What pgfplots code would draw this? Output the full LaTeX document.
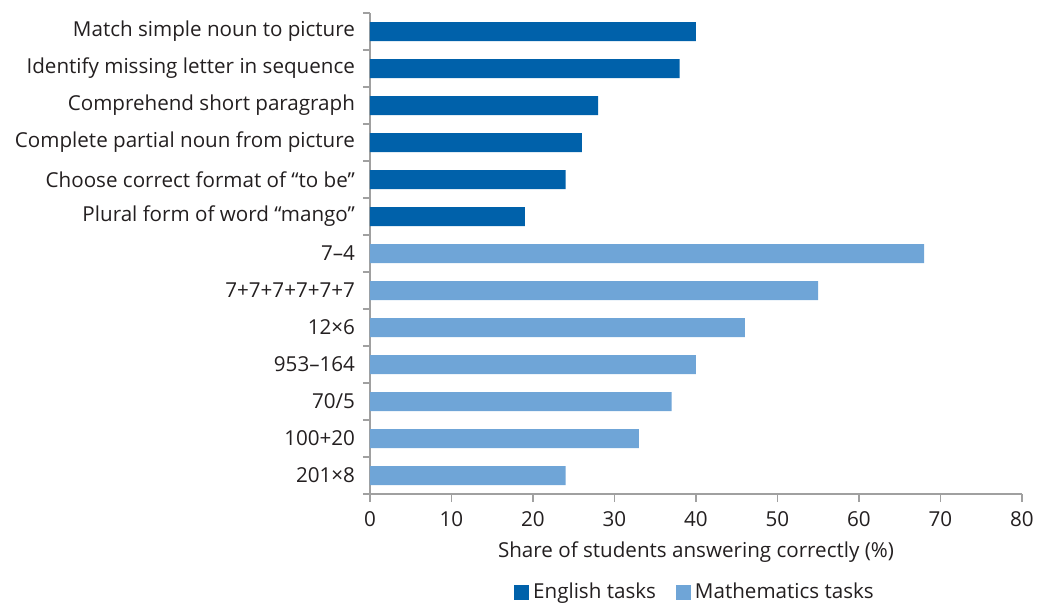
\documentclass[border=0pt]{standalone}
\usepackage{pgfplots}
\pgfplotsset{compat=1.18}
\usepackage{fontspec}
\setmainfont{Open Sans}
\definecolor{engblue}{RGB}{0,97,170}
\definecolor{mathblue}{RGB}{111,165,215}
\definecolor{axgray}{RGB}{160,160,160}
\definecolor{txt}{RGB}{35,31,32}
\begin{document}
\begin{tikzpicture}[x=1pt,y=1pt]
\path[use as bounding box] (-185,-54) rectangle (335.5,247);
\begin{axis}[
  at={(0,0)}, anchor=south west,
  scale only axis, width=326pt, height=240.5pt,
  xmin=0, xmax=80, ymin=-0.5, ymax=12.5,
  xbar, bar width=9.5pt, bar shift=0pt,
  axis x line*=bottom, axis y line*=left,
  axis line style={axgray, line width=0.8pt},
  xtick={0,10,...,80},
  ytick={0,...,12},
  yticklabels={201×8,100+20,70/5,953–164,12×6,7+7+7+7+7+7,7–4,
    Plural form of word “mango”,Choose correct format of “to be”,
    Complete partial noun from picture,Comprehend short paragraph,
    Identify missing letter in sequence,Match simple noun to picture},
  minor ytick={-0.5,0.5,...,12.5},
  major y tick style={draw=none},
  minor y tick style={axgray, line width=0.8pt},
  x tick style={axgray, line width=0.8pt},
  tick align=outside,
  major tick length=4pt, minor tick length=3.5pt,
  yticklabel style={font=\fontsize{10.3}{12}\selectfont, text=txt},
  xticklabel style={font=\fontsize{10.3}{12}\selectfont, text=txt, yshift=-1pt},
  /pgf/number format/assume math mode=true,
  xlabel={Share of students answering correctly (\%)},
  xlabel style={font=\fontsize{10.3}{12}\selectfont, text=txt, at={(axis description cs:0.5,0)}, anchor=center, yshift=-29pt},
  legend columns=2,
  legend style={draw=none, at={(axis description cs:0.5,0)}, anchor=center, yshift=-49pt,
    font=\fontsize{10.3}{12}\selectfont, text=txt,
    /tikz/every even column/.append style={column sep=8pt}},
  legend image code/.code={\fill[#1] (0pt,-4pt) rectangle (7.5pt,3.5pt);},
]
\addplot[draw=none, fill=engblue] coordinates {
  (40,12) (38,11) (28,10) (26,9) (24,8) (19,7)};
\addlegendentry{English tasks}
\addplot[draw=none, fill=mathblue] coordinates {
  (68,6) (55,5) (46,4) (40,3) (37,2) (33,1) (24,0)};
\addlegendentry{Mathematics tasks}
\end{axis}
\end{tikzpicture}
\end{document}
